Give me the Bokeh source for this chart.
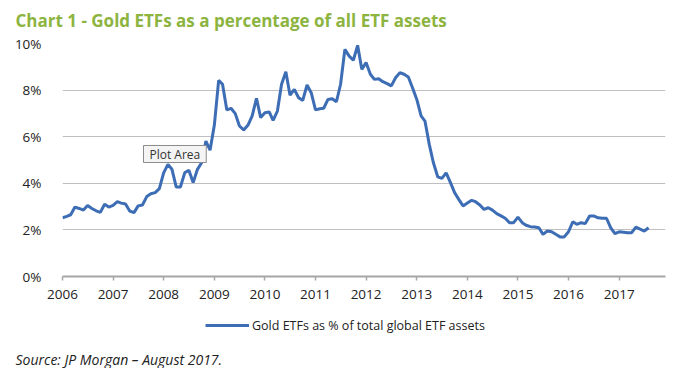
import pandas as pd
from bokeh.plotting import figure
from bokeh.layouts import column
from bokeh.models import (Range1d, FixedTicker, PrintfTickFormatter, DatetimeTickFormatter,
                          Label, Legend, LegendItem, ColumnDataSource)
from bokeh.embed import file_html
from bokeh.resources import INLINE

# ---- data (monthly, Jan 2006 - Aug 2017) ----
start_month = "2006-01-01"
gold_etf_share = [
    2.52, 2.58, 2.65, 2.98, 2.92, 2.85, 3.05, 2.92, 2.82, 2.75, 3.10, 2.98,
    3.05, 3.21, 3.15, 3.11, 2.81, 2.74, 3.03, 3.07, 3.43, 3.55, 3.60, 3.77,
    4.45, 4.81, 4.60, 3.84, 3.84, 4.45, 4.56, 4.03, 4.60, 4.88, 5.81, 5.42,
    6.50, 8.42, 8.25, 7.15, 7.22, 6.99, 6.46, 6.29, 6.50, 6.89, 7.65, 6.82,
    7.03, 7.06, 6.70, 7.10, 8.25, 8.79, 7.78, 8.03, 7.67, 7.56, 8.22, 7.89,
    7.15, 7.20, 7.22, 7.60, 7.63, 7.50, 8.25, 9.75, 9.46, 9.28, 9.92, 8.89,
    9.18, 8.68, 8.46, 8.49, 8.36, 8.28, 8.18, 8.53, 8.75, 8.68, 8.56, 8.10,
    7.60, 6.89, 6.67, 5.67, 4.88, 4.28, 4.21, 4.45, 4.03, 3.60, 3.30, 3.03,
    3.15, 3.27, 3.21, 3.07, 2.88, 2.95, 2.85, 2.70, 2.60, 2.50, 2.31, 2.31,
    2.55, 2.31, 2.20, 2.14, 2.12, 2.09, 1.81, 1.95, 1.92, 1.81, 1.70, 1.70,
    1.92, 2.35, 2.24, 2.31, 2.27, 2.60, 2.60, 2.52, 2.50, 2.50, 2.09, 1.84,
    1.92, 1.90, 1.88, 1.88, 2.12, 2.03, 1.95, 2.09,
]
years = [2006, 2007, 2008, 2009, 2010, 2011, 2012, 2013, 2014, 2015, 2016, 2017]
y_ticks = [0, 2, 4, 6, 8, 10]
series_name = "Gold ETFs as % of total global ETF assets"
title_text = "Chart 1 - Gold ETFs as a percentage of all ETF assets"
source_text = "Source: JP Morgan \u2013 August 2017."

dates = pd.date_range(start_month, periods=len(gold_etf_share), freq="MS")
src = ColumnDataSource(dict(date=dates, value=gold_etf_share))

FONT = "Open Sans"
LINE_COLOR = "#3D6DB5"
W = 684


def blank_panel(height):
    fig = figure(width=W, height=height, output_backend="svg", toolbar_location=None,
                 x_range=Range1d(0, W), y_range=Range1d(height, 0), min_border=0)
    fig.frame_align = False
    fig.axis.visible = False
    fig.grid.visible = False
    fig.outline_line_color = None
    fig.background_fill_color = "white"
    fig.border_fill_color = "white"
    return fig


# ---------------- header: title ----------------
HEAD_H = 33
h = blank_panel(HEAD_H)
h.add_layout(Label(x=15, y=20, text=title_text,
                   text_font=FONT, text_font_style="bold", text_font_size="17px",
                   text_color="#8CB43F", text_baseline="alphabetic", text_align="left"))

# ---------------- main chart ----------------
p = figure(width=W, height=275, output_backend="svg", toolbar_location=None,
           x_axis_type="datetime",
           x_range=Range1d(pd.Timestamp("2006-01-01"), pd.Timestamp("2017-12-01")),
           y_range=Range1d(0, 10),
           min_border_left=62, min_border_right=19, min_border_top=10, min_border_bottom=32)
p.frame_align = False
p.outline_line_color = None
p.background_fill_color = "white"
p.border_fill_color = "white"

p.line("date", "value", source=src, line_color=LINE_COLOR, line_width=3)

p.xaxis.ticker = FixedTicker(ticks=[pd.Timestamp(f"{y}-01-01").timestamp() * 1000 for y in years])
p.xaxis.formatter = DatetimeTickFormatter(years="%Y", months="%Y", days="%Y", hours="%Y")
p.xaxis.axis_line_color = "#A6A6A6"
p.xaxis.axis_line_width = 2
p.xaxis.major_tick_line_color = "#A6A6A6"
p.xaxis.major_tick_line_width = 1.5
p.xaxis.major_tick_out = 4
p.xaxis.major_tick_in = 0
p.xaxis.minor_tick_line_color = None
p.xaxis.major_label_standoff = 9
p.xaxis.major_label_text_font = FONT
p.xaxis.major_label_text_font_size = "13.5px"
p.xaxis.major_label_text_color = "#222222"

p.yaxis.ticker = FixedTicker(ticks=y_ticks)
p.yaxis.formatter = PrintfTickFormatter(format="%d%%")
p.yaxis.axis_line_color = None
p.yaxis.major_tick_line_color = None
p.yaxis.minor_tick_line_color = None
p.yaxis.major_label_standoff = 15
p.yaxis.major_label_text_font = FONT
p.yaxis.major_label_text_font_size = "13.5px"
p.yaxis.major_label_text_color = "#222222"

p.xgrid.grid_line_color = None
p.ygrid.ticker = FixedTicker(ticks=y_ticks)
p.ygrid.grid_line_color = "#BFBFBF"
p.ygrid.grid_line_width = 1

# "Plot Area" hover box
p.add_layout(Label(x=81, y=114, x_units="screen", y_units="screen", text="Plot Area",
                   text_font=FONT, text_font_size="12px", text_color="#333333",
                   text_baseline="bottom", text_align="left",
                   border_line_color="#8C8C8C", border_line_width=1,
                   background_fill_color="#F4F4F4",
                   padding=dict(left=6, right=6, top=0, bottom=0)))

# ---------------- footer: legend + source ----------------
FOOT_H = 60
f = blank_panel(FOOT_H)
f.y_range = Range1d(0, FOOT_H)
# same series drawn in the footer only to feed the legend swatch (falls outside its range)
legend_line = f.line("date", "value", source=src, line_color=LINE_COLOR, line_width=3)
legend = Legend(items=[LegendItem(label=series_name, renderers=[legend_line])],
                location=(205, 33), orientation="horizontal",
                padding=0, margin=0, spacing=0,
                border_line_alpha=0, background_fill_alpha=0,
                glyph_width=44, glyph_height=20, label_height=20, label_standoff=3,
                label_text_font=FONT, label_text_font_size="12.5px",
                label_text_color="#222222")
f.add_layout(legend)
f.add_layout(Label(x=15, y=9, text=source_text,
                   text_font=FONT, text_font_style="italic", text_font_size="14px",
                   text_color="#222222", text_baseline="alphabetic", text_align="left"))

layout = column(h, p, f, spacing=0)
open("out.html", "w").write(file_html(layout, INLINE))
